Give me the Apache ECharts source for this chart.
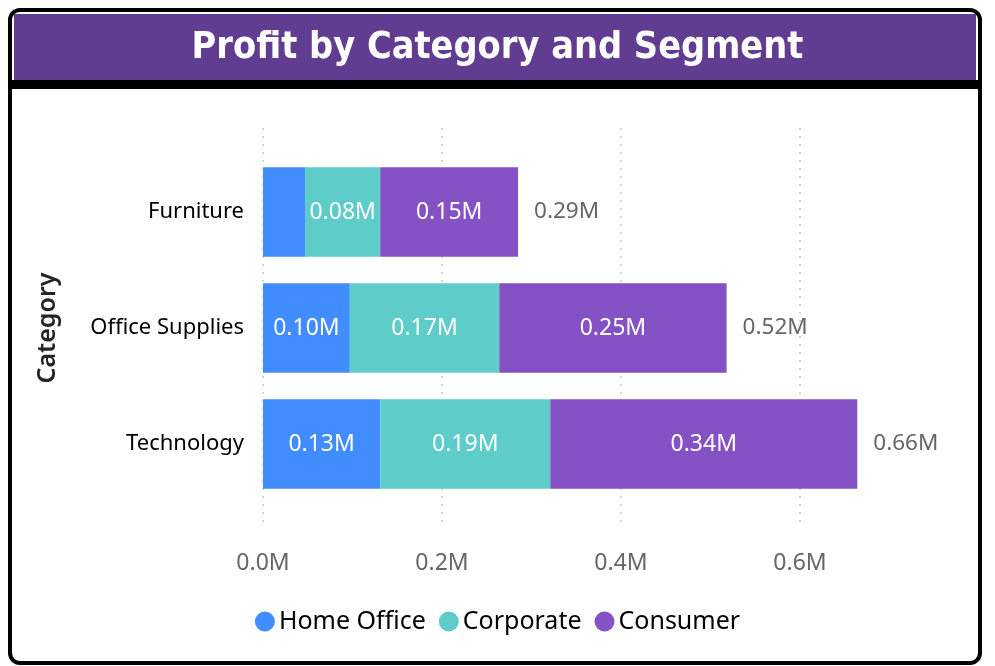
<!DOCTYPE html>
<html>
<head>
<meta charset="utf-8">
<script src="https://cdn.jsdelivr.net/npm/echarts@6/dist/echarts.min.js"></script>
<style>
  html, body { margin: 0; padding: 0; background: #fff; }
  #main { width: 995px; height: 666px; }
</style>
</head>
<body>
<div id="main"></div>
<script>
// values in millions
var categories = ["Furniture", "Office Supplies", "Technology"];
var homeOffice = [0.047, 0.097, 0.131];
var corporate = [0.084, 0.167, 0.190];
var consumer = [0.154, 0.254, 0.343];
var xTicks = [0, 0.2, 0.4, 0.6];

var totals = categories.map(function (c, i) {
  return homeOffice[i] + corporate[i] + consumer[i];
});

var font = "Noto Sans";
var fmt = function (v) { return v.toFixed(2) + "M"; };
var plotRight = 995 - 263 - 895 * 0.7;

function segment(name, values, color) {
  return {
    name: name,
    type: "bar",
    stack: "total",
    barWidth: "77%",
    itemStyle: { color: color },
    data: values.map(function (v) {
      return { value: v, label: { show: v >= 0.06 } };
    }),
    label: {
      position: "inside",
      color: "#fff",
      fontFamily: font,
      fontSize: 23,
      formatter: function (p) { return fmt(p.value); }
    }
  };
}

var myChart = echarts.init(document.getElementById("main"));
var option = {
  animation: false,
  graphic: [
    {
      type: "rect",
      shape: { x: 10, y: 10, width: 970, height: 653, r: 10 },
      style: { fill: "#fff", stroke: "#000", lineWidth: 4 },
      z: -10
    },
    {
      type: "rect",
      shape: { x: 12, y: 80, width: 966, height: 9 },
      style: { fill: "#000" },
      z: -9
    },
    {
      type: "rect",
      shape: { x: 14, y: 14, width: 962, height: 66 },
      style: { fill: "#613D91" },
      z: -9
    }
  ],
  title: {
    text: "Profit by Category and Segment",
    left: "center",
    top: 24,
    textStyle: {
      color: "#fff",
      fontFamily: "DejaVu Sans Condensed",
      fontWeight: "bold",
      fontSize: 37.5
    }
  },
  legend: {
    data: ["Home Office", "Corporate", "Consumer"],
    bottom: 27,
    left: "center",
    icon: "circle",
    itemWidth: 20,
    itemHeight: 20,
    itemGap: 13,
    textStyle: { fontFamily: font, fontSize: 25, color: "#000", padding: [0, 0, 0, -1] }
  },
  grid: [
    { left: 263, right: plotRight, top: 154, bottom: 666 - 502 },
    // taller grid used only for the dotted gridlines
    { left: 263, right: plotRight, top: 128, bottom: 666 - 525 }
  ],
  xAxis: [
    {
      type: "value",
      gridIndex: 0,
      min: 0,
      max: 0.7,
      interval: 0.2,
      axisLine: { show: false },
      axisTick: { show: false },
      splitLine: { show: false },
      axisLabel: {
        margin: 50,
        color: "#666",
        fontFamily: font,
        fontSize: 23,
        formatter: function (v) {
          return xTicks.indexOf(Math.round(v * 10) / 10) >= 0 ? v.toFixed(1) + "M" : "";
        }
      }
    },
    {
      type: "value",
      gridIndex: 1,
      min: 0,
      max: 0.7,
      interval: 0.2,
      axisLine: { show: false },
      axisTick: { show: false },
      axisLabel: { show: false },
      splitLine: {
        showMaxLine: false,
        lineStyle: { type: [2, 6], color: "#C8C8C8", width: 1.5 }
      }
    }
  ],
  yAxis: [
    {
      type: "category",
      gridIndex: 0,
      data: categories,
      inverse: true,
      name: "Category",
      nameLocation: "middle",
      nameGap: 203,
      nameRotate: 90,
      nameTextStyle: { fontFamily: font, fontSize: 25, fontWeight: 600, color: "#252423" },
      axisLine: { show: false },
      axisTick: { show: false },
      axisLabel: { margin: 19, color: "#000", fontFamily: font, fontSize: 22 }
    },
    {
      type: "value",
      gridIndex: 1,
      show: false,
      splitLine: { show: false }
    }
  ],
  series: [
    segment("Home Office", homeOffice, "#418CFF"),
    segment("Corporate", corporate, "#5ECCC8"),
    segment("Consumer", consumer, "#8452C4"),
    {
      name: "Total",
      type: "bar",
      barWidth: "77%",
      barGap: "-100%",
      z: 1,
      itemStyle: { color: "rgba(0,0,0,0)" },
      data: totals,
      label: {
        show: true,
        position: "right",
        distance: 16,
        color: "#666",
        fontFamily: font,
        fontSize: 22.5,
        formatter: function (p) { return fmt(p.value); }
      }
    }
  ]
};
option && myChart.setOption(option);
</script>
</body>
</html>
